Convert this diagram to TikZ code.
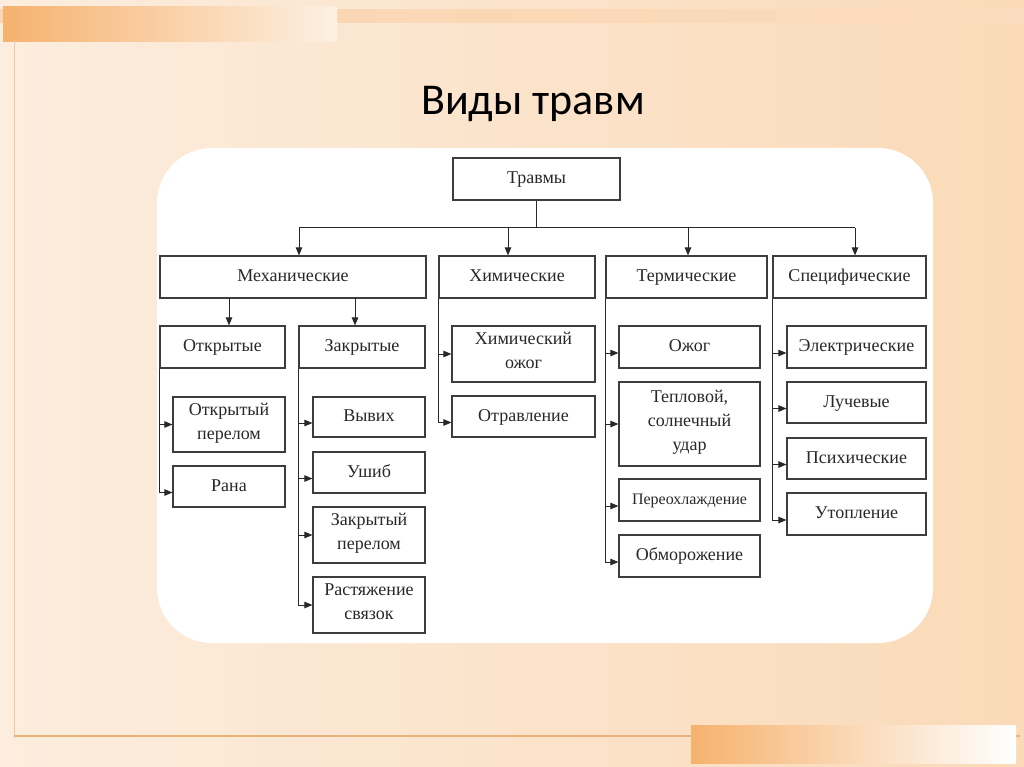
\documentclass[tikz,border=0pt]{standalone}
\usepackage{fontspec}
\setmainfont{Liberation Serif}
\newfontfamily\titlefont{Carlito}
\usetikzlibrary{arrows.meta}
\definecolor{bgL}{RGB}{252,237,222}
\definecolor{bgR}{RGB}{250,218,184}
\definecolor{bandO}{RGB}{246,178,110}
\definecolor{lineO}{RGB}{232,178,122}
\definecolor{ink}{RGB}{40,40,40}
\begin{document}
\begin{tikzpicture}[x=1pt,y=-1pt,
  box/.style={draw=ink!90,line width=1.2pt,fill=white,inner sep=1pt,align=center,
    text=ink,font=\fontsize{18}{24}\selectfont,
    execute at begin node=\strut, execute at end node=\strut},
  conn/.style={draw=ink,line width=1pt},
  arr/.style={conn,-{Triangle[length=8pt,width=6.5pt]}}]
\newcommand\bx[6]{\node[box,minimum width={#4-#2},minimum height={#5-#3}] (#1) at ({(#2+#4)/2},{(#3+#5)/2}) {#6};}
% link from trunk of #1 to child #2, shifted by #3
\newcommand\lnk[3]{\coordinate (#2a) at ([yshift=#3]#2.west); \draw[arr] (#1.south west |- #2a) -- (#2a);}
% background
\useasboundingbox (0,0) rectangle (1024,767);
\shade[left color=bgL,right color=bgR] (0,0) rectangle (1024,767);
% top decoration
\shade[left color=bandO!55!white,right color=bandO!45!white] (0,10) rectangle (1024,23);
\shade[left color=bandO,right color=white!80!bandO] (3,7) rectangle (337,42);
\draw[lineO!70!white,line width=1pt] (14,40) -- (14,738);
% bottom decoration
\draw[lineO,line width=1.5pt] (14,736) -- (1020,736);
\shade[left color=bandO,right color=white] (691,725) rectangle (1016,763);
% white panel
\fill[white,rounded corners=55pt] (157,148) rectangle (933,643);
% title
\node[font=\titlefont\fontsize{44}{50}\selectfont,text=black] (title) at (533,104) {Виды травм};
% boxes
\bx{tr}{453}{158}{620}{200}{Травмы}
\bx{mech}{160}{256}{426}{298}{Механические}
\bx{chem}{439}{256}{595}{298}{Химические}
\bx{term}{606}{256}{767}{298}{Термические}
\bx{spec}{773}{256}{926}{298}{Специфические}
\bx{otk}{160}{326}{285}{368}{Открытые}
\bx{zak}{299}{326}{425}{368}{Закрытые}
\bx{op}{173}{397}{285}{452}{Открытый\\перелом}
\bx{rana}{173}{466}{285}{507}{Рана}
\bx{vyv}{313}{397}{425}{437}{Вывих}
\bx{ush}{313}{452}{425}{493}{Ушиб}
\bx{zp}{313}{507}{425}{563}{Закрытый\\перелом}
\bx{rs}{313}{577}{425}{633}{Растяжение\\связок}
\bx{cho}{452}{326}{595}{382}{Химический\\ожог}
\bx{otr}{452}{396}{595}{437}{Отравление}
\bx{ozh}{619}{326}{760}{368}{Ожог}
\bx{tep}{619}{382}{760}{466}{Тепловой,\\солнечный\\удар}
\node[box,font=\fontsize{16}{22}\selectfont,minimum width=141,minimum height=42] (per) at (689.5,500) {Переохлаждение};
\bx{obm}{619}{535}{760}{577}{Обморожение}
\bx{el}{787}{326}{926}{368}{Электрические}
\bx{luch}{787}{382}{926}{423}{Лучевые}
\bx{psy}{787}{438}{926}{479}{Психические}
\bx{uto}{787}{493}{926}{535}{Утопление}
% top-level connectors
\coordinate (bus) at (536,228);
\coordinate (b1) at (299,228);
\coordinate (b2) at (508,228);
\coordinate (b3) at (688,228);
\coordinate (b4) at (855,228);
\draw[conn] (tr.south) -- (tr.south |- bus);
\draw[conn] (b1) -- (b4);
\draw[arr] (b1) -- (b1 |- mech.north);
\draw[arr] (b2) -- (b2 |- chem.north);
\draw[arr] (b3) -- (b3 |- term.north);
\draw[arr] (b4) -- (b4 |- spec.north);
% mechanical
\coordinate (m1) at (229,298);
\coordinate (m2) at (355,298);
\draw[arr] (m1) -- (m1 |- otk.north);
\draw[arr] (m2) -- (m2 |- zak.north);
% trunks and links
\lnk{otk}{op}{0pt}
\lnk{otk}{rana}{-6pt}
\draw[conn] (otk.south west) -- (otk.south west |- ranaa);
\lnk{zak}{vyv}{-6pt}
\lnk{zak}{ush}{-6pt}
\lnk{zak}{zp}{0pt}
\lnk{zak}{rs}{0pt}
\draw[conn] (zak.south west) -- (zak.south west |- rsa);
\lnk{chem}{cho}{0pt}
\lnk{chem}{otr}{-6pt}
\draw[conn] (chem.south west) -- (chem.south west |- otra);
\lnk{term}{ozh}{-6pt}
\lnk{term}{tep}{0pt}
\lnk{term}{per}{-6pt}
\lnk{term}{obm}{-6pt}
\draw[conn] (term.south west) -- (term.south west |- obma);
\lnk{spec}{el}{-6pt}
\lnk{spec}{luch}{-6pt}
\lnk{spec}{psy}{-6pt}
\lnk{spec}{uto}{-6pt}
\draw[conn] (spec.south west) -- (spec.south west |- utoa);
\end{tikzpicture}
\end{document}
